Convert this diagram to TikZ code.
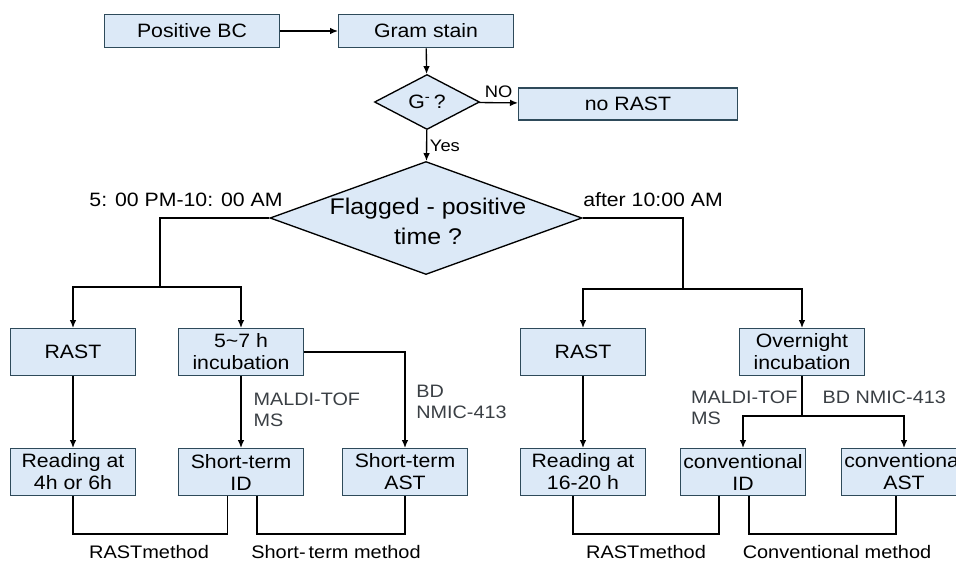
\documentclass[tikz,border=0pt]{standalone}
\usepackage{fontspec}
\setmainfont{Liberation Sans}[FakeStretch=1.1]
\usetikzlibrary{shapes.geometric,arrows.meta}

\definecolor{boxfill}{HTML}{DCE9F7}
\definecolor{boxline}{HTML}{2E4A5A}
\definecolor{lblgray}{HTML}{3A3F44}

\begin{document}
\begin{tikzpicture}[x=0.75pt, y=-0.75pt,
                    stepbox/.style={rectangle, draw=boxline, fill=boxfill, line width=1pt,
                        minimum width=93.75pt, minimum height=35pt, inner sep=1pt, align=center,
                        font=\fontsize{14.5}{16.5}\selectfont},
                    topbox/.style={stepbox, minimum width=131pt, minimum height=25pt},
                    decide/.style={diamond, draw=black, fill=boxfill, line width=1pt, inner sep=0pt},
                    arr/.style={-{Latex[length=6pt, width=5pt]}, line width=1pt},
                    wire/.style={line width=1pt},
                    note/.style={text=lblgray, align=left, inner sep=1pt, font=\fontsize{13.5}{15.75}\selectfont},
                    cond/.style={inner sep=1pt, font=\fontsize{14.5}{16.5}\selectfont},
                    method/.style={inner sep=1pt, font=\fontsize{13.6}{15}\selectfont}
                ]
    \useasboundingbox (0,0) rectangle (956,562);

    % top row
    \node[topbox] (pbc) at (192,31) {Positive BC};
    \node[topbox] (gram) at (426,31) {Gram stain};
    \node[decide, minimum width=78.75pt, minimum height=41.25pt,
          font=\fontsize{14.5}{16.5}\selectfont] (gneg) at (427,102) {G\textsuperscript{-}\,?};
    \node[topbox, minimum width=164pt, minimum height=24pt] (norast) at (628,104) {no RAST};

    % main decision
    \node[decide, minimum width=234pt, minimum height=84.75pt] (flag) at (426,218) {};
    \node[align=center, inner sep=0pt, font=\fontsize{17}{22.5}\selectfont] (flagtxt) at (428,221)
        {Flagged - positive\\time ?};

    \node[cond] (night) at (186,200) {5: 00 PM-10: 00 AM};
    \node[cond] (day) at (653,200) {after 10:00 AM};

    \coordinate (lsplit) at (160,287);
    \coordinate (rsplit) at (683,289);

    % second row
    \node[stepbox] (rastA) at (73,352) {RAST};
    \node[stepbox] (incub) at (241,352) {5\textasciitilde7 h\\incubation};
    \node[stepbox] (rastB) at (583,352) {RAST};
    \node[stepbox] (overnight) at (802,352) {Overnight\\incubation};

    % third row
    \node[stepbox] (read1) at (73,472) {Reading at\\4h or 6h};
    \node[stepbox] (stid) at (241,472) {Short-term\\ID};
    \node[stepbox] (stast) at (405,472) {Short-term\\AST};
    \node[stepbox] (read2) at (583,472) {Reading at\\16-20 h};
    \node[stepbox] (cid) at (743,472) {conventional\\ID};
    \node[stepbox] (cast) at (904,472) {conventional\\AST};

    \coordinate (osplit) at (802,416);

    % connectors
    \draw[arr] (pbc) -- (gram);
    \draw[arr] (gram) -- (gneg);
    \draw[arr] (gneg) -- node[above, font=\fontsize{12.5}{14}\selectfont, inner sep=2pt, yshift=1.5pt] {NO} (norast);
    \draw[arr] (gneg) -- node[right, font=\fontsize{12.5}{14}\selectfont, inner sep=2pt] {Yes} (flag);

    \draw[wire] (flag.west) -| (lsplit);
    \draw[arr] (lsplit) -| (rastA);
    \draw[arr] (lsplit) -| (incub);
    \draw[wire] (flag.east) -| (rsplit);
    \draw[arr] (rsplit) -| (rastB);
    \draw[arr] (rsplit) -| (overnight);

    \draw[arr] (rastA) -- (read1);
    \draw[arr] (incub) -- node[note, right, xshift=8pt, yshift=2pt] {MALDI-TOF\\MS} (stid);
    \draw[arr] (incub.east) -| node[note, right, pos=0.76, xshift=7pt] {BD\\NMIC-413} (stast);
    \draw[arr] (rastB) -- (read2);
    \draw[wire] (overnight) -- (osplit);
    \draw[arr] (osplit) -| (cid);
    \draw[arr] (osplit) -| (cast);
    \node[note, anchor=east] (maldi2) at (799,408) {MALDI-TOF\\MS};
    \node[note, anchor=west] (bd2) at (821,397) {BD NMIC-413};

    % method brackets
    \draw[wire] (read1.south) -- ++(0,38) -| ([xshift=-10pt]stid.south);
    \draw[wire] ([xshift=12pt]stid.south) -- ++(0,38) -| (stast.south);
    \draw[wire] ([xshift=-7.5pt]read2.south) -- ++(0,38) -| ([xshift=-18pt]cid.south);
    \draw[wire] ([xshift=4.5pt]cid.south) -- ++(0,38) -| ([xshift=-6pt]cast.south);

    \node[method] (m1) at (149,552) {RASTmethod};
    \node[method] (m2) at (336,552) {Short-\,term method};
    \node[method] (m3) at (646,552) {RASTmethod};
    \node[method] (m4) at (837,552) {Conventional method};
\end{tikzpicture}
\end{document}
